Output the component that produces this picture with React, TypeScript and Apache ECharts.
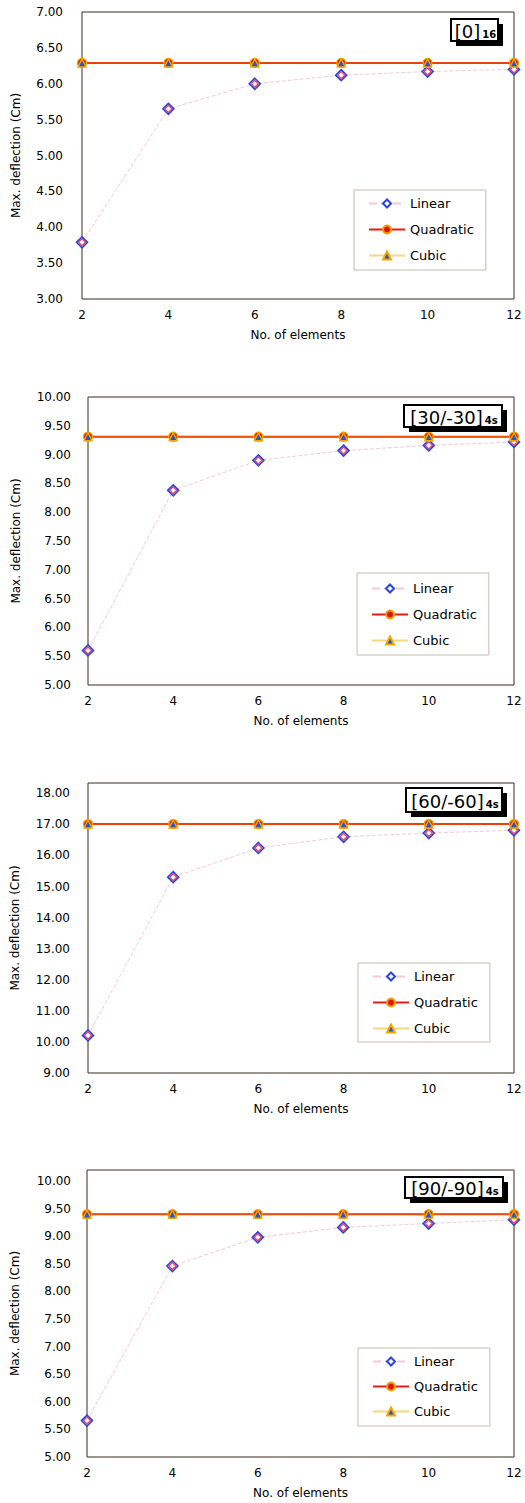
import React, { useEffect, useRef } from "react";
import * as echarts from "echarts";

const elements = [2, 4, 6, 8, 10, 12];

const linear1 = [3.79, 5.65, 6.0, 6.12, 6.17, 6.2];
const quadratic1 = [6.29, 6.29, 6.29, 6.29, 6.29, 6.29];
const cubic1 = [6.29, 6.29, 6.29, 6.29, 6.29, 6.29];

const linear2 = [5.6, 8.38, 8.9, 9.07, 9.16, 9.22];
const quadratic2 = [9.31, 9.31, 9.31, 9.31, 9.31, 9.31];
const cubic2 = [9.31, 9.31, 9.31, 9.31, 9.31, 9.31];

const linear3 = [10.21, 15.3, 16.24, 16.6, 16.72, 16.81];
const quadratic3 = [17.01, 17.01, 17.01, 17.01, 17.01, 17.01];
const cubic3 = [17.01, 17.01, 17.01, 17.01, 17.01, 17.01];

const linear4 = [5.66, 8.46, 8.98, 9.16, 9.23, 9.3];
const quadratic4 = [9.4, 9.4, 9.4, 9.4, 9.4, 9.4];
const cubic4 = [9.4, 9.4, 9.4, 9.4, 9.4, 9.4];

const linearData = [linear1, linear2, linear3, linear4];
const quadraticData = [quadratic1, quadratic2, quadratic3, quadratic4];
const cubicData = [cubic1, cubic2, cubic3, cubic4];

const yMins = [3, 5, 9, 5];
const yMaxs = [7, 10, 18.33, 10.2];
const yIntervals = [0.5, 0.5, 1, 0.5];

const layupMain = ["[0]", "[30/-30]", "[60/-60]", "[90/-90]"];
const layupSub = ["16", "4s", "4s", "4s"];

const seriesNames = ["Linear", "Quadratic", "Cubic"];
const xTitle = "No. of elements";
const yTitle = "Max. deflection (Cm)";

// layout (pixels)
const grids = [
  { left: 82, top: 12, width: 432, height: 287 },
  { left: 88, top: 397, width: 426, height: 288 },
  { left: 88, top: 783, width: 426, height: 290 },
  { left: 87, top: 1170, width: 427, height: 287 },
];
const yLabelMargins = [19, 17, 18, 16];
const yNameGaps = [60, 66, 67, 66];
const legendPos = [
  { left: 354, top: 190, pad: [7, 12, 8, 14], gap: 13 },
  { left: 357, top: 573, pad: [9, 12, 8, 14], gap: 13 },
  { left: 358, top: 963, pad: [7, 12, 7, 14], gap: 13 },
  { left: 358, top: 1348, pad: [7, 12, 8, 14], gap: 12 },
];
const boxPos = [
  { x: 451, y: 19, w: 47, h: 22 },
  { x: 404, y: 405, w: 98, h: 22 },
  { x: 406, y: 788, w: 96, h: 24 },
  { x: 405, y: 1177, w: 98, h: 21 },
];

const FONT = "DejaVu Sans";

function pairs(ys: number[]) {
  return elements.map((x, i) => [x, ys[i]]);
}

export default function App() {
  const ref = useRef<HTMLDivElement>(null);

  useEffect(() => {
    if (!ref.current) return;
    const chart = echarts.init(ref.current, null, { renderer: "svg" });

    const xAxis: any[] = [];
    const yAxis: any[] = [];
    const series: any[] = [];
    const legend: any[] = [];
    const graphic: any[] = [];

    grids.forEach((g, i) => {
      xAxis.push({
        gridIndex: i,
        type: "value",
        min: 2,
        max: 12,
        interval: 2,
        name: xTitle,
        nameLocation: "middle",
        nameGap: 30,
        nameTextStyle: { fontFamily: FONT, fontSize: 12, color: "#000" },
        axisLine: { show: false },
        axisTick: { show: false },
        splitLine: { show: false },
        axisLabel: { fontFamily: FONT, fontSize: 12, color: "#000", margin: 10 },
      });
      const iv = yIntervals[i];
      yAxis.push({
        gridIndex: i,
        type: "value",
        min: yMins[i],
        max: yMaxs[i],
        interval: iv,
        name: yTitle,
        nameLocation: "middle",
        nameRotate: 90,
        nameGap: yNameGaps[i],
        nameTextStyle: { fontFamily: FONT, fontSize: 12, color: "#000" },
        axisLine: { show: false },
        axisTick: { show: false },
        splitLine: { show: false },
        axisLabel: {
          fontFamily: FONT,
          fontSize: 12,
          color: "#000",
          margin: yLabelMargins[i],
          formatter: (v: number) => {
            const k = (v - yMins[i]) / iv;
            return Math.abs(k - Math.round(k)) < 1e-6 ? v.toFixed(2) : "";
          },
        },
      });

      series.push({
        name: "Linear",
        type: "line",
        xAxisIndex: i,
        yAxisIndex: i,
        data: pairs(linearData[i]),
        symbol: "diamond",
        symbolSize: 11,
        itemStyle: { color: "#ffffff", borderColor: "#2a45e0", borderWidth: 1.6 },
        lineStyle: { color: "#f6c8d4", width: 1, type: "dashed" },
        z: 2,
      });
      series.push({
        name: "LinearInner",
        type: "scatter",
        xAxisIndex: i,
        yAxisIndex: i,
        data: pairs(linearData[i]),
        symbol: "diamond",
        symbolSize: 7,
        itemStyle: { color: "rgba(255,255,255,0)", borderColor: "#e8163c", borderWidth: 1.3 },
        z: 3,
      });
      series.push({
        name: "Quadratic",
        type: "line",
        xAxisIndex: i,
        yAxisIndex: i,
        data: pairs(quadraticData[i]),
        symbol: "circle",
        symbolSize: 9,
        itemStyle: { color: "#d8180c", borderColor: "#f59a00", borderWidth: 1.2 },
        lineStyle: { color: "#ea1d10", width: 2 },
        z: 4,
      });
      series.push({
        name: "Cubic",
        type: "line",
        xAxisIndex: i,
        yAxisIndex: i,
        data: pairs(cubicData[i]),
        symbol: "triangle",
        symbolSize: 8,
        itemStyle: { color: "#2a50d8", borderColor: "#f2a800", borderWidth: 1.4 },
        lineStyle: { color: "#f6b000", width: 1, opacity: 0.5 },
        z: 5,
      });

      const lp = legendPos[i];
      legend.push({
        data: seriesNames,
        orient: "vertical",
        left: lp.left,
        top: lp.top,
        padding: lp.pad,
        itemGap: lp.gap,
        itemWidth: 36,
        itemHeight: 10,
        borderColor: "#c4bab0",
        borderWidth: 1,
        backgroundColor: "#ffffff",
        selectedMode: false,
        textStyle: { fontFamily: FONT, fontSize: 13, color: "#000" },
      });

      const b = boxPos[i];
      graphic.push({
        type: "rect",
        shape: { x: b.x + 5, y: b.y + 5, width: b.w, height: b.h },
        style: { fill: "#000" },
        z: 100,
      });
      graphic.push({
        type: "rect",
        shape: { x: b.x, y: b.y, width: b.w, height: b.h },
        style: { fill: "#fff", stroke: "#000", lineWidth: 2 },
        z: 101,
      });
      graphic.push({
        type: "text",
        x: b.x + b.w / 2 + 1,
        y: b.y + b.h / 2 + 1,
        style: {
          text: "{m|" + layupMain[i] + "}{s|" + layupSub[i] + "}",
          align: "center",
          verticalAlign: "middle",
          rich: {
            m: { fontFamily: FONT, fontSize: 18, color: "#000", lineHeight: 20 },
            s: { fontFamily: FONT, fontSize: 10, color: "#000", fontWeight: "bold", lineHeight: 20, padding: [6, 0, 0, 2] },
          },
        },
        z: 102,
      });
    });

    chart.setOption({
      animation: false,
      backgroundColor: "#ffffff",
      grid: grids.map((g) => ({
        ...g,
        show: true,
        borderColor: "#3a2a20",
        borderWidth: 1,
        backgroundColor: "transparent",
        containLabel: false,
      })),
      xAxis,
      yAxis,
      legend,
      series,
      graphic,
    });

    return () => chart.dispose();
  }, []);

  return (
    <div
      ref={ref}
      style={{ position: "absolute", left: 0, top: 0, width: 525, height: 1503 }}
    />
  );
}
